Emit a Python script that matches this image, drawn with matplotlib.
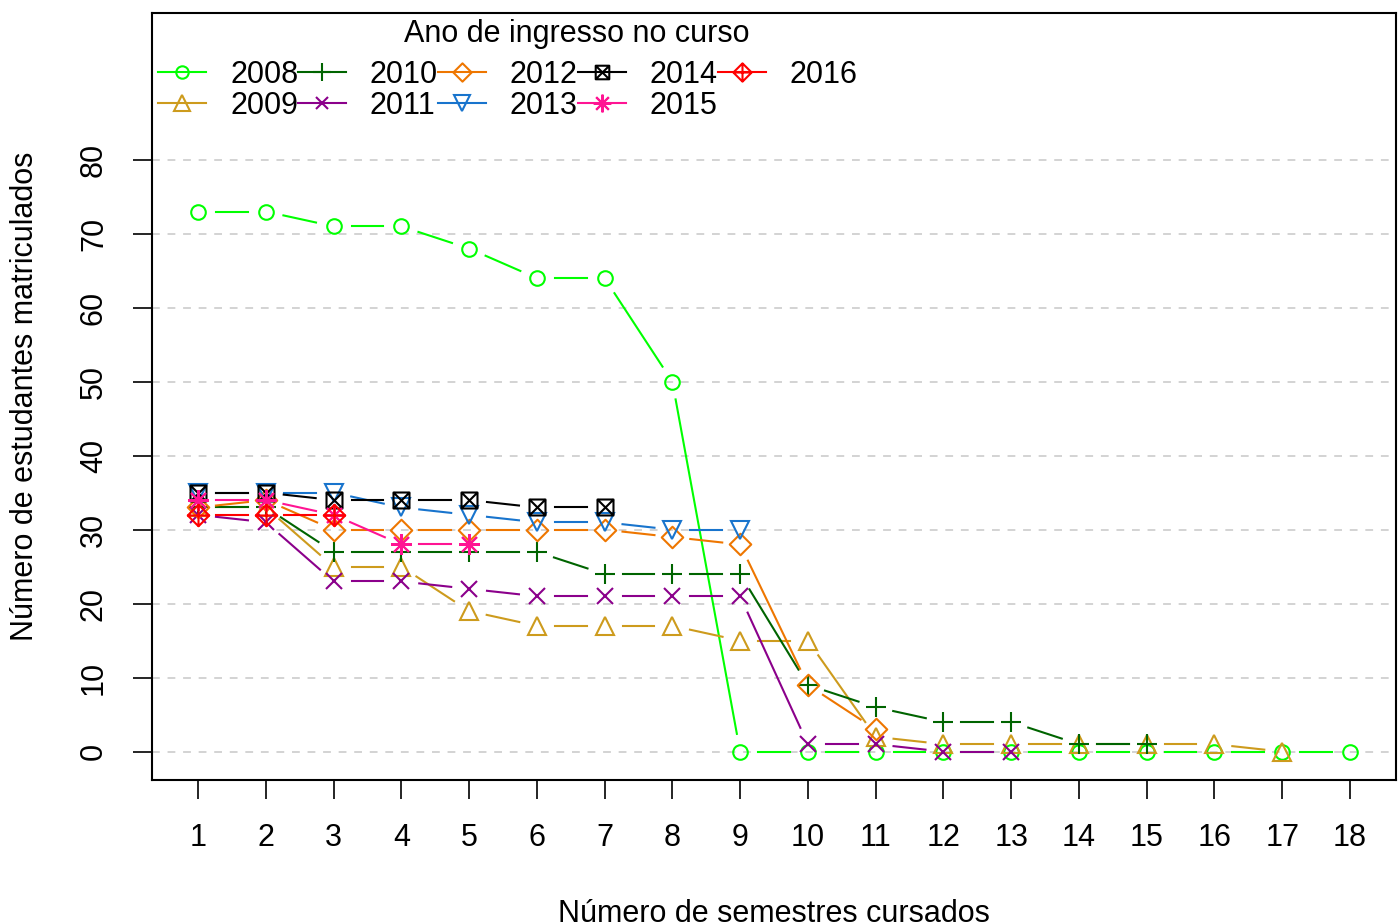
import numpy as np
import matplotlib
matplotlib.use("Agg")
import matplotlib.pyplot as plt
from matplotlib.path import Path
from matplotlib.lines import Line2D

plt.rcParams['font.family'] = ['Liberation Sans', 'DejaVu Sans']

# enrolled students per semester, by year of entry
semestres = list(range(1, 19))
anos = ['2008', '2009', '2010', '2011', '2012', '2013', '2014', '2015', '2016']
v2008 = [73, 73, 71, 71, 68, 64, 64, 50, 0, 0, 0, 0, 0, 0, 0, 0, 0, 0]
v2009 = [33, 33, 25, 25, 19, 17, 17, 17, 15, 15, 2, 1, 1, 1, 1, 1, 0]
v2010 = [33, 33, 27, 27, 27, 27, 24, 24, 24, 9, 6, 4, 4, 1, 1]
v2011 = [32, 31, 23, 23, 22, 21, 21, 21, 21, 1, 1, 0, 0]
v2012 = [33, 34, 30, 30, 30, 30, 30, 29, 28, 9, 3]
v2013 = [35, 35, 35, 33, 32, 31, 31, 30, 30]
v2014 = [35, 35, 34, 34, 34, 33, 33]
v2015 = [34, 34, 32, 28, 28]
v2016 = [32, 32, 32]
series = [v2008, v2009, v2010, v2011, v2012, v2013, v2014, v2015, v2016]

cores = ['#00FF00', '#CD9B1D', '#006400', '#8B008B', '#EE7600',
         '#1874CD', '#000000', '#FF1493', '#FF0000']

# custom R-like symbols
boxx = Path([(-1, -1), (1, -1), (1, 1), (-1, 1), (-1, -1),
             (-1, -1), (1, 1), (-1, 1), (1, -1)],
            [Path.MOVETO, Path.LINETO, Path.LINETO, Path.LINETO, Path.CLOSEPOLY,
             Path.MOVETO, Path.LINETO, Path.MOVETO, Path.LINETO])
diam = Path([(0, -1), (1, 0), (0, 1), (-1, 0), (0, -1)],
            [Path.MOVETO, Path.LINETO, Path.LINETO, Path.LINETO, Path.CLOSEPOLY])
diamplus = Path([(0, -1), (1, 0), (0, 1), (-1, 0), (0, -1),
                 (0, -1), (0, 1), (-1, 0), (1, 0)],
                [Path.MOVETO, Path.LINETO, Path.LINETO, Path.LINETO, Path.CLOSEPOLY,
                 Path.MOVETO, Path.LINETO, Path.MOVETO, Path.LINETO])
marcadores = ['o', '^', '+', 'x', diam, 'v', boxx, (8, 2, 0), diamplus]
tamanhos = [10.5, 13, 14.5, 11, 15.5, 13, 11.5, 15, 15.5]

fig = plt.figure(figsize=(13.98, 9.24), dpi=100)
ax = fig.add_axes([152 / 1398, 1 - 780 / 924, 1244 / 1398, 767 / 924])
ax.set_xlim(0.32, 18.68)
ax.set_ylim(-3.84, 99.84)

for g in range(0, 81, 10):
    ax.axhline(g, color='#D3D3D3', lw=1.4, ls=(0, (4, 4)), zorder=0)

gap = 18  # pixels, like R type="b"
for vals, cor, mk, ms in zip(series, cores, marcadores, tamanhos):
    x = semestres[:len(vals)]
    pts = ax.transData.transform(np.column_stack([x, vals]))
    inv = ax.transData.inverted()
    for p0, p1 in zip(pts[:-1], pts[1:]):
        d = p1 - p0
        L = np.hypot(*d)
        if L <= 2 * gap:
            continue
        a = inv.transform(p0 + d / L * gap)
        b = inv.transform(p1 - d / L * gap)
        ax.plot([a[0], b[0]], [a[1], b[1]], color=cor, lw=1.5, zorder=2)
    ax.plot(x, vals, ls='none', marker=mk, ms=ms, mfc='none', mec=cor,
            mew=1.5, zorder=3)

ax.set_xticks(semestres)
ax.set_yticks(range(0, 81, 10))
ax.tick_params(axis='both', labelsize=22, length=14, width=1.2, pad=17)
for lab in ax.get_yticklabels():
    lab.set_rotation(90)
    lab.set_va('center')
for s in ax.spines.values():
    s.set_linewidth(1.5)

ax.set_xlabel('Número de semestres cursados', fontsize=22, labelpad=33)
ax.set_ylabel('Número de estudantes matriculados', fontsize=22, labelpad=28)

handles = [Line2D([], [], color=c, lw=1.5, marker=m, ms=s * 0.85, mfc='none',
                  mec=c, mew=1.5) for c, m, s in zip(cores, marcadores, tamanhos)]
leg = ax.legend(handles, anos, ncol=5, loc='upper left',
                bbox_to_anchor=(0.005, 0.939), frameon=False, fontsize=22,
                handlelength=1.57, handletextpad=0.78, columnspacing=0.0,
                labelspacing=0.03, borderpad=0, borderaxespad=0)
ax.text(0.3416, 0.972, 'Ano de ingresso no curso', transform=ax.transAxes,
        ha='center', va='center', fontsize=22)

fig.savefig('out.png', dpi=100)
